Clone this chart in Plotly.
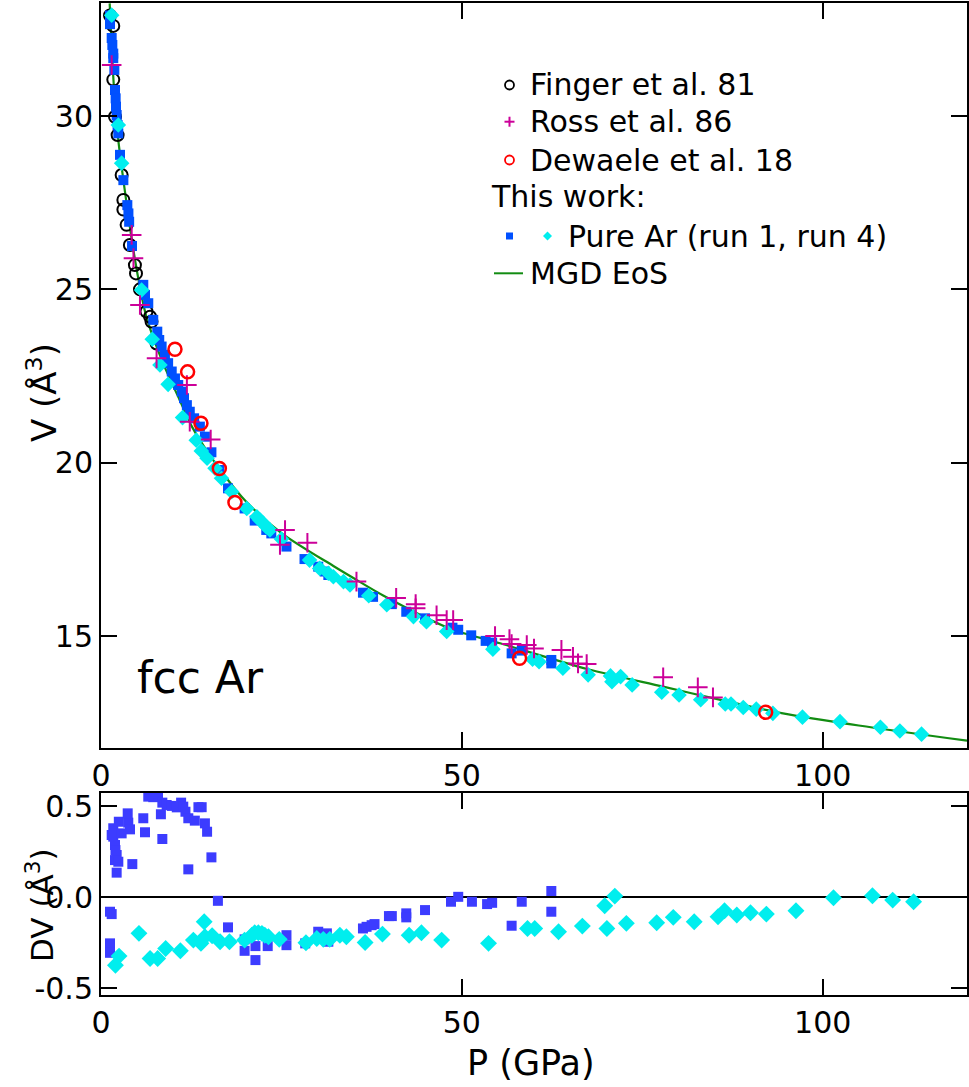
import plotly.graph_objects as go

# ---------------- data ----------------
curve_P = [1.2, 1.6, 2.0, 2.4, 3.3, 4.25, 5.5, 6.3, 8.6, 10.7, 12.6, 14.9, 17.4, 20.0,
           25.0, 32.2, 35.4, 39.1, 48.3, 55.3, 67.5, 77.9, 86.0, 94.5, 105.0, 120.0]
curve_V = [33.25, 31.5, 30.2, 29.3, 27.85, 26.45, 24.95, 24.2, 22.87, 21.9, 21.04, 20.27, 19.55, 18.9,
           17.97, 17.02, 16.62, 16.17, 15.22, 14.79, 14.04, 13.54, 13.15, 12.77, 12.42, 11.98]

finger_P = [1.25, 1.7, 1.7, 1.94, 2.3, 2.86, 3.1, 3.1, 3.55, 4.0, 4.7, 4.85, 5.4, 6.3, 6.8, 7.0, 7.7]
finger_V = [32.9, 32.6, 31.05, 29.98, 29.45, 28.3, 27.58, 27.3, 26.86, 26.28, 25.7, 25.46, 25.0,
            24.36, 24.21, 24.07, 23.44]

ross_P = [1.48, 4.25, 4.5, 5.4, 7.7, 11.9, 12.3, 15.2, 24.8, 25.5, 28.6, 35.4, 40.9, 43.6, 43.6,
          46.5, 47.9, 48.8, 54.6, 56.6, 56.9, 59.0, 60.0, 63.8, 65.4, 66.1, 67.3, 77.9, 82.7, 84.8]
ross_V = [31.47, 26.57, 25.9, 24.55, 23.01, 22.24, 21.18, 20.67, 17.63, 18.06, 17.69, 16.57, 16.1,
          15.92, 15.8, 15.6, 15.46, 15.46, 15.0, 14.91, 14.77, 14.74, 14.64, 14.6, 14.4, 14.21,
          14.19, 13.81, 13.52, 13.23]

dewaele_P = [10.25, 12.0, 13.85, 16.4, 18.56, 58.0, 92.1]
dewaele_V = [23.27, 22.62, 21.14, 19.83, 18.85, 14.36, 12.8]

run1_P = [1.25, 1.25, 1.48, 1.57, 1.7, 1.7, 1.85, 1.94, 2.03, 2.08, 2.17, 2.3, 2.4, 2.63, 3.1,
          3.65, 3.8, 3.9, 4.3, 5.86, 6.1, 6.55, 7.24, 7.8, 8.07, 8.4, 8.86, 9.3, 9.8, 10.25,
          10.7, 11.2, 11.5, 11.9, 12.3, 12.9, 13.7, 14.4, 15.3, 16.4, 17.6, 19.9, 21.3, 22.9,
          23.6, 25.7, 28.2, 30.1, 31.0, 31.5, 36.3, 37.7, 40.3, 42.3, 44.9, 48.7, 49.5, 51.3,
          53.3, 54.2, 56.9, 58.3, 62.4, 62.4]
run1_V = [32.9, 32.65, 32.25, 32.05, 31.8, 31.67, 31.33, 30.75, 30.51, 30.27, 30.03, 29.74, 29.5,
          28.88, 28.15, 27.43, 27.19, 26.95, 26.25, 25.13, 24.84, 24.6, 24.12, 23.78, 23.54,
          23.35, 23.11, 22.87, 22.63, 22.43, 22.24, 22.05, 21.86, 21.66, 21.47, 21.28, 21.04,
          20.75, 20.3, 19.79, 19.26, 18.68, 18.33, 18.06, 17.96, 17.58, 17.22, 17.0, 16.86,
          16.76, 16.25, 16.13, 15.92, 15.7, 15.51, 15.24, 15.18, 15.02, 14.86, 14.81, 14.5,
          14.58, 14.31, 14.21]

run4_P = [1.48, 2.4, 2.86, 5.63, 7.1, 8.17, 9.3, 11.3, 13.2, 13.9, 14.7, 15.8, 16.7, 18.1, 20.2,
          21.6, 22.0, 22.5, 22.9, 23.4, 25.0, 28.9, 30.3, 31.5, 32.2, 33.6, 34.5, 37.1, 39.6,
          43.3, 45.1, 47.9, 54.3, 59.8, 60.7, 64.0, 67.5, 70.6, 70.8, 72.0, 73.6, 77.7, 80.1,
          83.1, 86.5, 87.3, 89.0, 90.8, 93.1, 97.2, 102.4, 108.0, 110.7, 113.7]
run4_V = [32.91, 29.74, 28.64, 24.98, 23.56, 22.82, 22.26, 21.3, 20.65, 20.34, 20.13, 19.84, 19.55,
          19.16, 18.68, 18.44, 18.35, 18.25, 18.15, 18.06, 17.8, 17.19, 16.95, 16.81, 16.71,
          16.57, 16.47, 16.16, 15.9, 15.56, 15.41, 15.13, 14.62, 14.33, 14.26, 14.07, 13.88,
          13.85, 13.68, 13.83, 13.59, 13.38, 13.3, 13.16, 13.04, 13.04, 12.94, 12.89, 12.77,
          12.66, 12.53, 12.37, 12.26, 12.17]

dv1_P = [1.25, 1.48, 1.25, 1.25, 1.25, 1.7, 1.48, 1.7, 1.94, 2.0, 2.17, 1.94, 2.4, 2.17, 2.47,
         2.86, 3.78, 3.7, 4.02, 4.34, 5.86, 6.1, 6.55, 7.24, 7.9, 8.3, 8.5, 8.5, 9.1, 9.8, 10.5,
         11.1, 11.4, 11.7, 12.1, 12.1, 13.0, 13.5, 13.95, 14.4, 14.7, 15.3, 16.2, 17.6, 19.9,
         19.9, 21.4, 21.4, 23.1, 25.7, 25.7, 28.3, 30.1, 31.3, 31.5, 36.3, 36.8, 37.5, 37.9,
         39.9, 40.3, 42.3, 42.3, 44.9, 48.5, 49.5, 51.4, 53.5, 54.2, 56.9, 58.3, 62.4, 62.4]
dv1_D = [-0.079, -0.092, -0.253, -0.281, -0.305, 0.334, 0.343, 0.38, 0.288, 0.26, 0.233, 0.205,
         0.196, 0.136, 0.416, 0.352, 0.411, 0.462, 0.374, 0.183, 0.435, 0.358, 0.554, 0.551,
         0.572, 0.457, 0.521, 0.321, 0.508, 0.503, 0.495, 0.521, 0.499, 0.471, 0.435, 0.154,
         0.422, 0.496, 0.496, 0.407, 0.361, 0.22, -0.019, -0.165, -0.231, -0.294, -0.268,
         -0.345, -0.268, -0.208, -0.263, -0.253, -0.189, -0.198, -0.244, -0.171, -0.162,
         -0.153, -0.147, -0.103, -0.103, -0.088, -0.110, -0.07, -0.024, 0.003, -0.024, -0.037,
         -0.03, -0.156, -0.024, 0.035, -0.079]

dv4_P = [2.5, 2.0, 5.26, 6.8, 7.85, 8.96, 11.0, 12.8, 13.85, 14.3, 14.4, 15.4, 16.5, 17.8, 19.9,
         20.9, 21.3, 21.8, 22.3, 22.7, 23.2, 24.7, 28.4, 29.9, 30.8, 31.7, 33.1, 34.0, 36.6,
         39.0, 42.7, 44.4, 47.2, 53.7, 59.1, 60.1, 63.4, 66.7, 69.8, 70.1, 71.2, 72.8, 77.0,
         79.3, 82.2, 85.5, 86.4, 88.1, 90.0, 92.2, 96.3, 101.5, 106.9, 109.7, 112.6]
dv4_D = [-0.323, -0.373, -0.198, -0.336, -0.336, -0.281, -0.294, -0.235, -0.253, -0.134, -0.217,
         -0.211, -0.244, -0.244, -0.235, -0.208, -0.195, -0.195, -0.198, -0.208, -0.217, -0.231,
         -0.25, -0.226, -0.231, -0.231, -0.208, -0.217, -0.248, -0.202, -0.208, -0.195, -0.235,
         -0.253, -0.171, -0.171, -0.189, -0.158, -0.046, -0.171, 0.007, -0.143, -0.14, -0.11,
         -0.134, -0.107, -0.074, -0.097, -0.085, -0.092, -0.074, -0.002, 0.009, -0.015, -0.024]

x_ticks = [0, 50, 100]
v_ticks = [15, 20, 25, 30]
dv_ticks = [-0.5, 0.0, 0.5]
dv_ticktext = ["-0.5", "0.0", "0.5"]

legend_labels = ["Finger et al. 81", "Ross et al. 86", "Dewaele et al. 18", "This work:",
                 "Pure Ar (run 1, run 4)", "MGD EoS"]

# ---------------- style ----------------
FONT = "DejaVu Sans"
BLUE = "#0050ff"
BLUE2 = "#3c3cff"
CYAN = "#00eeee"
MAGENTA = "#cc0099"
RED = "#ff0000"
GREEN = "#128c12"

W, H = 969, 1087
ML, MR, MT, MB = 101, 2, 3, 92


def px(x):
    return (x - ML) / (W - ML - MR)


def py(y):
    return (H - MB - y) / (H - MT - MB)


fig = go.Figure()

fig.add_trace(go.Scatter(x=curve_P, y=curve_V, mode="lines",
                         line=dict(color=GREEN, width=2.2, shape="spline", smoothing=0.8),
                         xaxis="x", yaxis="y", showlegend=False))
fig.add_trace(go.Scatter(x=finger_P, y=finger_V, mode="markers",
                         marker=dict(symbol="circle-open", size=12, color="black", line=dict(width=2, color="black")),
                         xaxis="x", yaxis="y", showlegend=False))
fig.add_trace(go.Scatter(x=run1_P, y=run1_V, mode="markers",
                         marker=dict(symbol="square", size=10, color=BLUE),
                         xaxis="x", yaxis="y", showlegend=False))
fig.add_trace(go.Scatter(x=run4_P, y=run4_V, mode="markers",
                         marker=dict(symbol="diamond", size=12, color=CYAN),
                         xaxis="x", yaxis="y", showlegend=False))
fig.add_trace(go.Scatter(x=ross_P, y=ross_V, mode="markers",
                         marker=dict(symbol="cross-thin", size=14, color=MAGENTA, line=dict(width=2, color=MAGENTA)),
                         xaxis="x", yaxis="y", showlegend=False))
fig.add_trace(go.Scatter(x=dewaele_P, y=dewaele_V, mode="markers",
                         marker=dict(symbol="circle-open", size=13, color=RED, line=dict(width=2.5, color=RED)),
                         xaxis="x", yaxis="y", showlegend=False))

fig.add_trace(go.Scatter(x=dv1_P, y=dv1_D, mode="markers",
                         marker=dict(symbol="square", size=10, color=BLUE2),
                         xaxis="x2", yaxis="y2", showlegend=False))
fig.add_trace(go.Scatter(x=dv4_P, y=dv4_D, mode="markers",
                         marker=dict(symbol="diamond", size=13, color=CYAN),
                         xaxis="x2", yaxis="y2", showlegend=False))

axis_common = dict(showline=True, linewidth=2, linecolor="black", mirror="ticks", ticks="inside",
                   ticklen=16, tickwidth=2, tickcolor="black", showgrid=False, automargin=False,
                   tickfont=dict(family=FONT, size=30, color="black"))

fig.update_layout(
    width=W, height=H,
    margin=dict(l=ML, r=MR, t=MT, b=MB, autoexpand=False),
    paper_bgcolor="white", plot_bgcolor="white",
    showlegend=False,
    font=dict(family=FONT, color="black"),
    xaxis=dict(domain=[0, 1], range=[0, 120], anchor="y", tickvals=x_ticks, zeroline=False, **axis_common),
    yaxis=dict(domain=[py(748), 1.0], range=[11.77, 33.26], anchor="x", tickvals=v_ticks, zeroline=False,
               **axis_common),
    xaxis2=dict(domain=[0, 1], range=[0, 120], anchor="y2", tickvals=x_ticks, zeroline=False, **axis_common),
    yaxis2=dict(domain=[0, py(793)], range=[-0.537, 0.574], anchor="x2", tickvals=dv_ticks,
                ticktext=dv_ticktext, zeroline=True, zerolinecolor="black", zerolinewidth=2, **axis_common),
)

ann = []
# axis titles
ann.append(dict(text="V (Å<sup>3</sup>)", x=px(42), y=py(393), xref="paper", yref="paper", textangle=-90,
                showarrow=False, font=dict(family=FONT, size=34, color="black"), xanchor="center", yanchor="middle"))
ann.append(dict(text="DV (Å<sup>3</sup>)", x=px(40), y=py(905), xref="paper", yref="paper", textangle=-90,
                showarrow=False, font=dict(family=FONT, size=31, color="black"), xanchor="center", yanchor="middle"))
ann.append(dict(text="P (GPa)", x=px(531), y=py(1063), xref="paper", yref="paper",
                showarrow=False, font=dict(family=FONT, size=35, color="black"), xanchor="center", yanchor="middle"))
ann.append(dict(text="fcc Ar", x=px(135), y=py(677), xref="paper", yref="paper",
                showarrow=False, font=dict(family=FONT, size=44, color="black"), xanchor="left", yanchor="middle"))

# legend text
rows = [85, 121.7, 160, 196.7, 236, 273.3]
text_x = [528, 528, 528, 489, 566, 528]
for lab, yy, xx in zip(legend_labels, rows, text_x):
    ann.append(dict(text=lab, x=px(xx), y=py(yy), xref="paper", yref="paper", showarrow=False,
                    font=dict(family=FONT, size=30, color="black"), xanchor="left", yanchor="middle"))

shapes = []
sx = 509.5
r = 4.5
for yy, col in [(rows[0], "black"), (rows[2], RED)]:
    shapes.append(dict(type="circle", xref="paper", yref="paper", x0=px(sx - r), x1=px(sx + r),
                       y0=py(yy + r), y1=py(yy - r), line=dict(color=col, width=1.8)))
shapes.append(dict(type="line", xref="paper", yref="paper", x0=px(sx - 5), x1=px(sx + 5),
                   y0=py(rows[1]), y1=py(rows[1]), line=dict(color=MAGENTA, width=2)))
shapes.append(dict(type="line", xref="paper", yref="paper", x0=px(sx), x1=px(sx),
                   y0=py(rows[1] - 5), y1=py(rows[1] + 5), line=dict(color=MAGENTA, width=2)))
shapes.append(dict(type="rect", xref="paper", yref="paper", x0=px(sx - 3.5), x1=px(sx + 3.5),
                   y0=py(rows[4] + 3.5), y1=py(rows[4] - 3.5), fillcolor=BLUE, line=dict(width=0)))
dx, dy = 547.5, rows[4]
shapes.append(dict(type="path", xref="paper", yref="paper",
                   path=f"M {px(dx-4.5)},{py(dy)} L {px(dx)},{py(dy-4.5)} L {px(dx+4.5)},{py(dy)} L {px(dx)},{py(dy+4.5)} Z",
                   fillcolor=CYAN, line=dict(width=0)))
shapes.append(dict(type="line", xref="paper", yref="paper", x0=px(494), x1=px(523),
                   y0=py(rows[5]), y1=py(rows[5]), line=dict(color=GREEN, width=2)))

fig.update_layout(annotations=ann, shapes=shapes)

fig.write_html("out.html", config={"displayModeBar": False},
               post_script="document.body.style.margin='0';document.body.style.overflow='hidden';")
